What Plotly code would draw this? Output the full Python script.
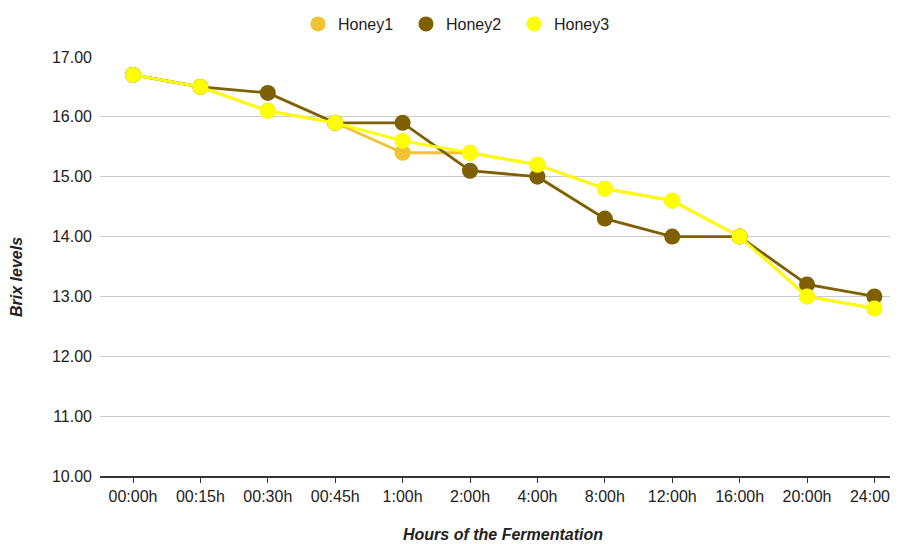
import plotly.graph_objects as go

hours = ["00:00h", "00:15h", "00:30h", "00:45h", "1:00h", "2:00h", "4:00h",
         "8:00h", "12:00h", "16:00h", "20:00h", "24:00h"]
honey1 = [16.7, 16.5, 16.1, 15.9, 15.4, 15.4, 15.2, 14.8, 14.6, 14.0, 13.0, 12.8]
honey2 = [16.7, 16.5, 16.4, 15.9, 15.9, 15.1, 15.0, 14.3, 14.0, 14.0, 13.2, 13.0]
honey3 = [16.7, 16.5, 16.1, 15.9, 15.6, 15.4, 15.2, 14.8, 14.6, 14.0, 13.0, 12.8]
y_ticks = [10, 11, 12, 13, 14, 15, 16, 17]

series = [("Honey1", honey1, "#F1C232"),
          ("Honey2", honey2, "#7F6000"),
          ("Honey3", honey3, "#FFFF00")]

FONT = "Liberation Sans, Arial, sans-serif"
# the page body adds an 8px margin, so the figure is 8px smaller each way
W, H = 890, 536
fig = go.Figure()
for name, vals, col in series:
    fig.add_trace(go.Scatter(x=hours, y=vals, mode="lines+markers", name=name,
                             line=dict(color=col, width=2.8),
                             marker=dict(color=col, size=16),
                             showlegend=False))
for name, vals, col in series:
    fig.add_trace(go.Scatter(x=[None], y=[None], mode="markers", name=name,
                             marker=dict(color=col, size=15)))

fig.update_layout(
    width=W, height=H,
    margin=dict(l=92, r=0, t=49, b=68, autoexpand=False),
    paper_bgcolor="white", plot_bgcolor="white",
    font=dict(family=FONT, size=16, color="#222222"),
    legend=dict(orientation="h", xref="container", yref="container",
                x=290 / W, xanchor="left", y=1 - 16 / H, yanchor="middle",
                font=dict(size=16, color="#222222"), itemsizing="trace",
                entrywidth=63, borderwidth=0, bgcolor="rgba(0,0,0,0)"),
    xaxis=dict(type="category", range=[-0.49, 11.35], showgrid=False,
               showline=True, linecolor="#333333", linewidth=1.5,
               ticks="outside", ticklen=5, tickcolor="#333333", automargin=False,
               tickfont=dict(size=16, color="#222222")),
    yaxis=dict(range=[10, 17], tickvals=y_ticks, tickformat=".2f",
               showgrid=True, gridcolor="#CCCCCC", gridwidth=1, automargin=False,
               zeroline=False, showline=False, ticks="", ticklabelstandoff=7,
               tickfont=dict(size=16, color="#222222")),
    annotations=[
        dict(text="<b><i>Brix levels</i></b>", xref="paper", yref="paper",
             x=-0.104, y=0.475, xanchor="center", yanchor="middle",
             textangle=-90, showarrow=False, font=dict(size=16, color="#222222")),
        dict(text="<b><i>Hours of the Fermentation</i></b>", xref="paper", yref="paper",
             x=0.505, y=-0.139, xanchor="center", yanchor="middle",
             showarrow=False, font=dict(size=16, color="#222222")),
    ],
)
fig.write_html("out.html")
